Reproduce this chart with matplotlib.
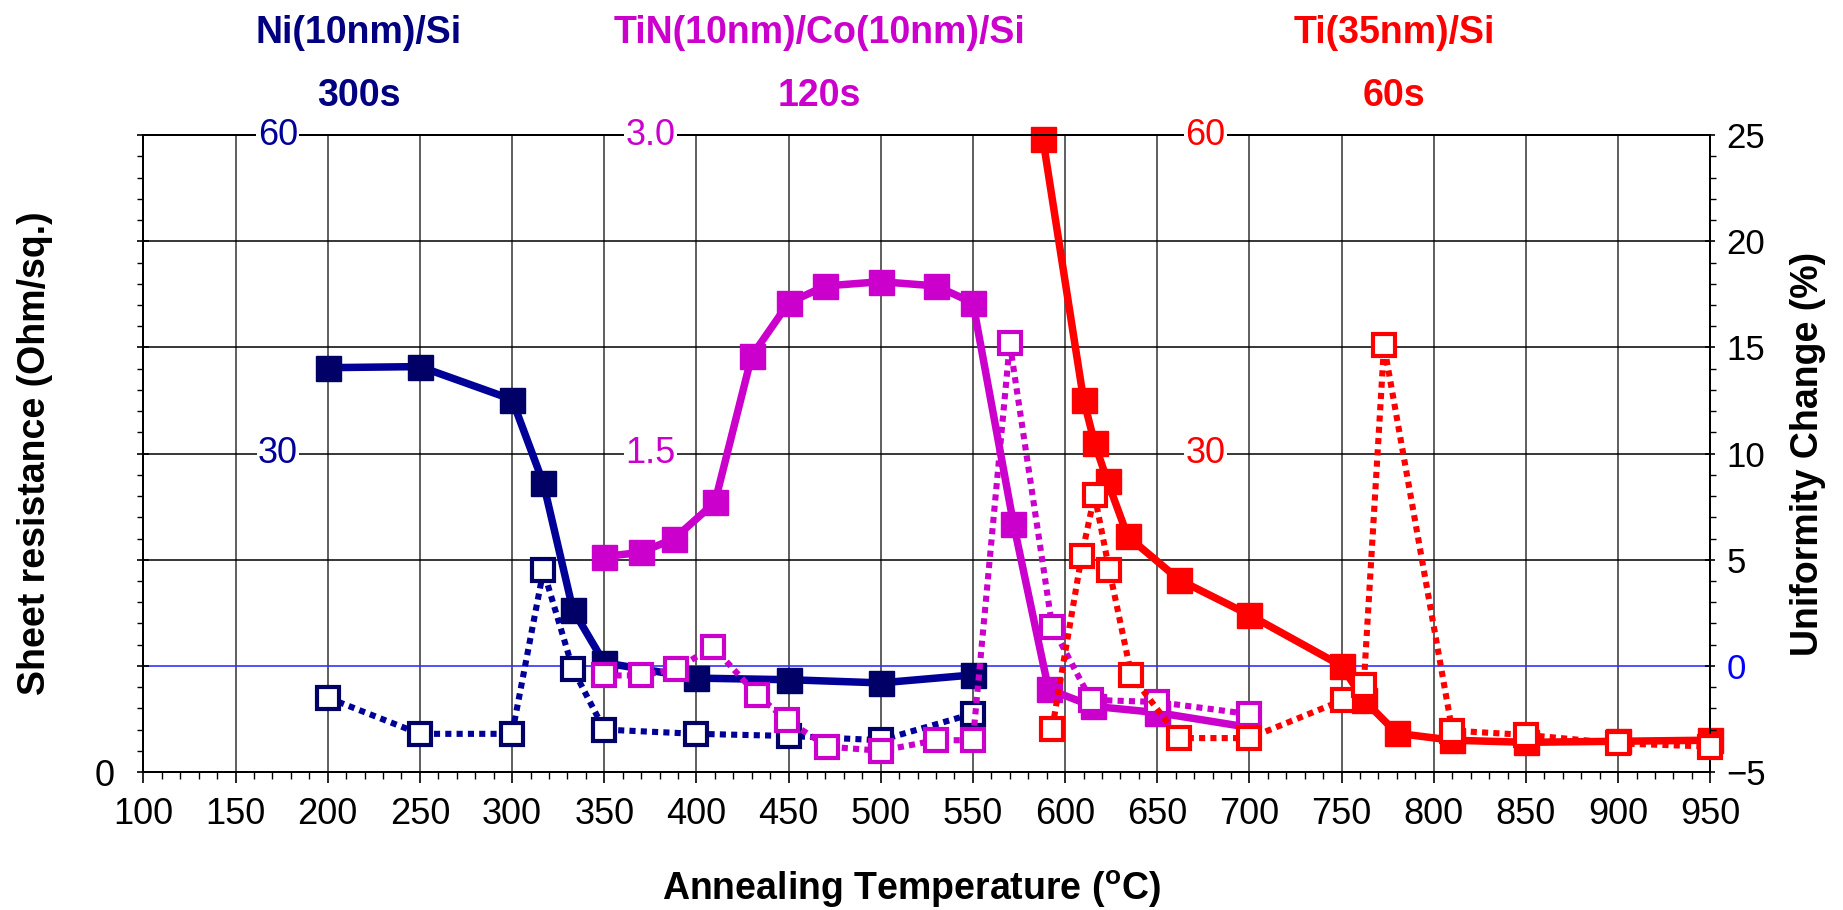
import matplotlib
matplotlib.use("Agg")
import matplotlib.pyplot as plt
from matplotlib.ticker import MultipleLocator, FixedLocator, FixedFormatter

plt.rcParams['font.family'] = ['Liberation Sans', 'DejaVu Sans']
plt.rcParams['mathtext.fontset'] = 'custom'
plt.rcParams['mathtext.rm'] = 'Liberation Sans:bold'
plt.rcParams['mathtext.default'] = 'rm'

# Ni(10nm)/Si, 300 s anneal
ni_temp = [200, 250, 300, 317, 333, 350, 400, 450, 500, 550]
ni_rs = [38.1, 38.2, 35.1, 27.2, 15.3, 10.3, 8.85, 8.7, 8.4, 9.15]
ni_unif = [-1.5, -3.2, -3.2, 4.5, -0.15, -3.0, -3.2, -3.3, -3.5, -2.25]

# TiN(10nm)/Co(10nm)/Si, 120 s anneal
co_temp = [350, 370, 388, 410, 430, 450, 470, 500, 530, 550, 572, 591, 615, 650, 700]
co_rs = [1.015, 1.035, 1.10, 1.27, 1.96, 2.21, 2.29, 2.31, 2.29, 2.21, 1.17, 0.39, 0.31, 0.28, 0.21]
co_unif_temp = [350, 370, 389, 409, 433, 449, 471, 500, 530, 550, 570, 593, 614, 650, 700]
co_unif = [-0.45, -0.45, -0.15, 0.9, -1.38, -2.55, -3.8, -4.0, -3.5, -3.5, 15.2, 1.85, -1.6, -1.7, -2.27]

# Ti(35nm)/Si, 60 s anneal
ti_temp = [588, 610, 616, 623, 634, 662, 700, 750, 762, 780, 810, 850, 900, 950]
ti_rs = [59.6, 35.1, 31.0, 27.4, 22.2, 18.1, 14.8, 10.0, 6.8, 3.65, 3.0, 2.8, 2.9, 3.0]
ti_unif_temp = [593, 609, 616, 624, 636, 662, 700, 751, 762, 773, 810, 850, 900, 950]
ti_unif = [-2.95, 5.2, 8.05, 4.5, -0.45, -3.4, -3.4, -1.6, -0.9, 15.1, -3.05, -3.25, -3.65, -3.8]

x_ticks = list(range(100, 951, 50))
unif_ticks = [-5, 0, 5, 10, 15, 20, 25]

NAVY_LINE = '#000099'
NAVY_MARK = '#000066'
MAGENTA = '#CC00CC'
RED = '#FF0000'

fig = plt.figure(figsize=(18.43, 9.10), dpi=100)
ax = fig.add_axes([0.0778, 0.1516, 0.8502, 0.6998])
ax_co = ax.twinx()
ax_u = ax.twinx()

ax.set_xlim(100, 950)
ax.set_ylim(0, 60)
ax_co.set_ylim(0, 3.0)
ax_u.set_ylim(-5, 25)

# grid drawn on the base axes
for t in x_ticks[1:-1]:
    ax.axvline(t, color='#333333', lw=1.1, zorder=0.5)
for v in [20, 30, 40, 50]:
    ax.axhline(v, color='black', lw=1.1, zorder=0.5)
ax.axhline(10, color='#3333FF', lw=1.2, zorder=0.5)

solid = dict(lw=5.4, marker='s', markersize=18, markeredgewidth=1.0, clip_on=False)
dotted = dict(lw=4.4, linestyle=(0, (1, 0.85)), dash_capstyle='butt', marker='s',
              markersize=15.5, markerfacecolor='white', markeredgewidth=3.0, clip_on=False)

ax.plot(ni_temp, ni_rs, color=NAVY_LINE, markerfacecolor=NAVY_MARK,
        markeredgecolor=NAVY_MARK, zorder=3, **solid)
ax.plot(ti_temp, ti_rs, color=RED, markerfacecolor=RED, markeredgecolor=RED,
        zorder=3, **solid)
ax_co.plot(co_temp, co_rs, color=MAGENTA, markerfacecolor=MAGENTA,
           markeredgecolor=MAGENTA, markevery=list(range(len(co_temp) - 1)),
           zorder=3, **solid)

ax_u.plot(ni_temp, ni_unif, color=NAVY_LINE, markeredgecolor=NAVY_MARK, zorder=3, **dotted)
ax_u.plot(co_unif_temp, co_unif, color=MAGENTA, markeredgecolor=MAGENTA, zorder=3, **dotted)
ax_u.plot(ti_unif_temp, ti_unif, color=RED, markeredgecolor=RED, zorder=3, **dotted)

# x axis
ax.xaxis.set_major_locator(FixedLocator(x_ticks))
ax.xaxis.set_minor_locator(MultipleLocator(10))
ax.tick_params(axis='x', which='major', direction='out', length=8, width=1.2,
               labelsize=26, pad=10)
ax.tick_params(axis='x', which='minor', direction='out', length=5, width=1.0)

# left axis: only the origin is labelled
ax.yaxis.set_major_locator(FixedLocator([0, 10, 20, 30, 40, 50, 60]))
ax.yaxis.set_major_formatter(FixedFormatter(['0', '', '', '', '', '', '']))
ax.yaxis.set_minor_locator(MultipleLocator(2))
ax.tick_params(axis='y', which='major', direction='inout', length=9, width=1.2,
               labelsize=26, pad=16)
ax.tick_params(axis='y', which='minor', direction='out', length=4, width=1.0)

ax_co.set_yticks([])
ax_co.tick_params(axis='y', which='both', right=False, labelright=False)

# right axis: uniformity change
ax_u.yaxis.set_major_locator(FixedLocator(unif_ticks))
ax_u.yaxis.set_minor_locator(MultipleLocator(1))
ax_u.tick_params(axis='y', which='major', direction='inout', length=7, width=1.2,
                 labelsize=25, pad=8)
ax_u.tick_params(axis='y', which='minor', direction='out', length=4, width=1.0)
for lbl, v in zip(ax_u.get_yticklabels(), unif_ticks):
    if v == 0:
        lbl.set_color('#0000FF')

for a in (ax, ax_co, ax_u):
    for s in a.spines.values():
        s.set_linewidth(1.3)
        s.set_color('black')

ax.set_xlabel('Annealing Temperature ($^{o}$C)', fontsize=27, fontweight='bold')
ax.xaxis.set_label_coords(0.49, -0.152)
ax.set_ylabel('Sheet resistance (Ohm/sq.)', fontsize=27, fontweight='bold')
ax.yaxis.set_label_coords(-0.058, 0.5)
ax_u.set_ylabel('Uniformity Change (%)', fontsize=27, fontweight='bold')
ax_u.yaxis.set_label_coords(1.051, 0.5)

# per-series scale markers inside the plot
scale_labels = [
    (173, 60, '60', NAVY_LINE), (173, 30, '30', NAVY_LINE),
    (375, 60, '3.0', MAGENTA), (375, 30, '1.5', MAGENTA),
    (676, 60, '60', RED), (676, 30, '30', RED),
]
for x, y, s, c in scale_labels:
    ax_u.text(x, y, s, transform=ax.transData, color=c, fontsize=26,
              ha='center', va='center', zorder=6, clip_on=False,
              bbox=dict(facecolor='white', edgecolor='none', pad=1))

titles = [
    (0.1945, 'Ni(10nm)/Si', '300s', '#000080'),
    (0.4445, 'TiN(10nm)/Co(10nm)/Si', '120s', MAGENTA),
    (0.7564, 'Ti(35nm)/Si', '60s', RED),
]
for x, name, dur, c in titles:
    fig.text(x, 0.964, name, color=c, fontsize=27, fontweight='bold',
             ha='center', va='center')
    fig.text(x, 0.894, dur, color=c, fontsize=27, fontweight='bold',
             ha='center', va='center')

fig.savefig('out.png', dpi=100)
